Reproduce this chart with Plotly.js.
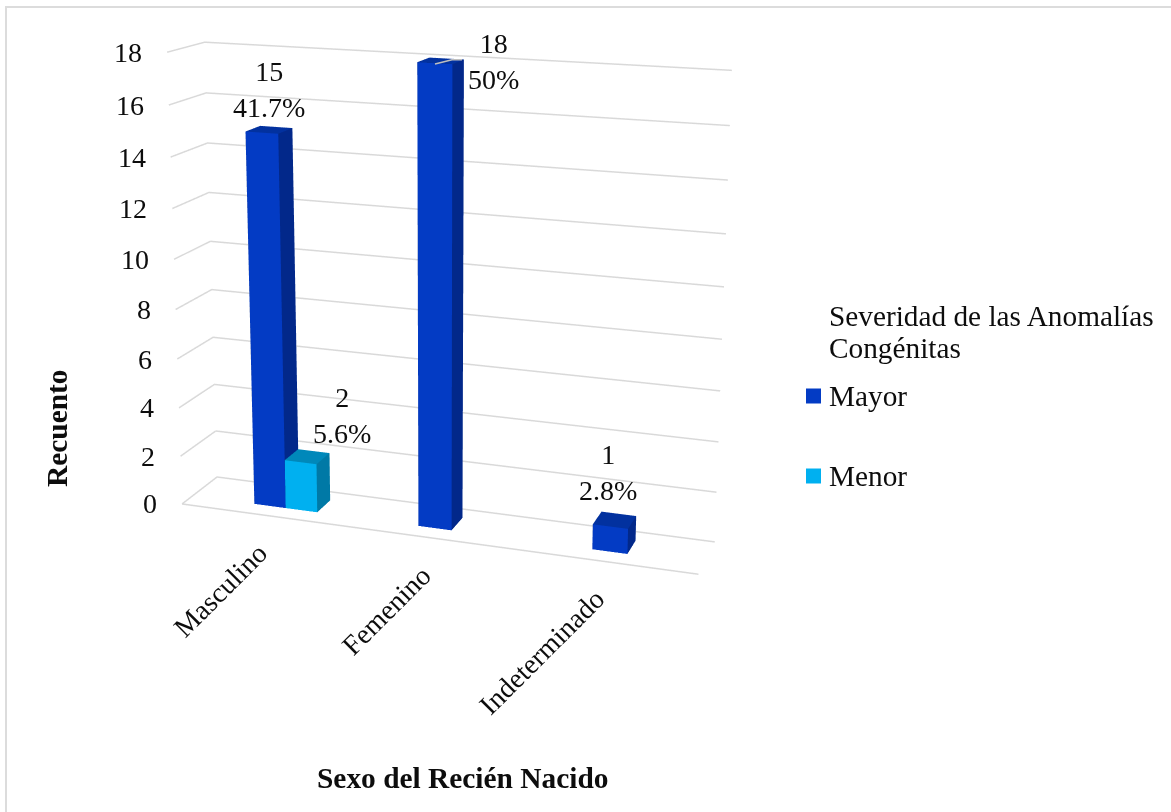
<!DOCTYPE html>
<html lang="es">
<head>
<meta charset="utf-8">
<title>Severidad de las anomalías congénitas por sexo</title>
<script src="https://cdn.plot.ly/plotly-3.0.1.min.js"></script>
<style>
  html, body { margin: 0; padding: 0; background: #fff; overflow: hidden; width: 1171px; height: 812px; }
  #frame { position: absolute; left: 5px; top: 6px; right: 0; bottom: 0; border-left: 2px solid #dcdcdc; border-top: 2px solid #dcdcdc; pointer-events: none; z-index: 5; }
  #chart { position: absolute; left: 0; top: -541px; width: 1171px; height: 1480px; }
</style>
</head>
<body>
<div id="chart"></div>
<div id="frame"></div>
<script>
// Recuento por sexo del recién nacido y severidad de la anomalía
const categories = ['Masculino', 'Femenino', 'Indeterminado'];
const mayorValues = [15, 18, 1];
const menorValues = [2, 0, 0];
const mayorPercents = ['41.7%', '50%', '2.8%'];
const menorPercents = ['5.6%', '', ''];
const valueTicks = [0, 2, 4, 6, 8, 10, 12, 14, 16, 18];

const SERIF = '"Liberation Serif", "Times New Roman", serif';
const TEXT = '#0d0d0d';
const GRID = '#d9d9d9';
const FIG_W = 1171, FIG_H = 1480, FIG_TOP = -541;

// Page pixels to paper fractions of the taller plotting surface
const px = x => x / FIG_W;
const py = y => 1 - (y - FIG_TOP) / FIG_H;

// Bar footprint inside a category slot, in axis units
const BAR_W = 0.195, BAR_LEFT = 0.39, DEPTH_LO = 0.3, DEPTH_HI = 0.72;

// One closed box as a mesh with a flat colour per face
function barMesh(name, slot, offset, values, colors) {
  const X = [], Y = [], Z = [], I = [], J = [], K = [], F = [];
  values.forEach((v, idx) => {
    if (!v) return;
    const x0 = idx + slot + offset * BAR_W, x1 = x0 + BAR_W;
    const b = X.length;
    [[x0,DEPTH_LO,0],[x1,DEPTH_LO,0],[x1,DEPTH_HI,0],[x0,DEPTH_HI,0],
     [x0,DEPTH_LO,v],[x1,DEPTH_LO,v],[x1,DEPTH_HI,v],[x0,DEPTH_HI,v]].forEach(p => {
      X.push(p[0]); Y.push(p[1]); Z.push(p[2]);
    });
    const quad = (a, c, d, e, col) => {
      I.push(b+a, b+a); J.push(b+c, b+d); K.push(b+d, b+e); F.push(col, col);
    };
    quad(0, 1, 5, 4, colors.front);
    quad(1, 2, 6, 5, colors.side);
    quad(4, 5, 6, 7, colors.top);
    quad(3, 0, 4, 7, colors.side);
    quad(2, 3, 7, 6, colors.side);
  });
  return {
    type: 'mesh3d', name, x: X, y: Y, z: Z, i: I, j: J, k: K, facecolor: F,
    flatshading: true, hoverinfo: 'skip', showscale: false,
    lighting: { ambient: 1, diffuse: 0, specular: 0, fresnel: 0, roughness: 1 }
  };
}

// Wall gridlines run along the left wall and then the back wall at every tick value
const gridX = [], gridY = [], gridZ = [];
valueTicks.forEach(v => {
  gridX.push(0, 0, 3, null);
  gridY.push(0, 1, 1, null);
  gridZ.push(v, v, v, null);
});
const wallGrid = {
  type: 'scatter3d', mode: 'lines', hoverinfo: 'skip', showlegend: false,
  x: gridX, y: gridY, z: gridZ, connectgaps: false,
  line: { color: GRID, width: 3 }
};
const floorFront = {
  type: 'scatter3d', mode: 'lines', hoverinfo: 'skip', showlegend: false,
  x: [0, 3], y: [0, 0], z: [0, 0],
  line: { color: GRID, width: 3 }
};

const hiddenAxis = (range) => ({
  range, autorange: false, title: { text: '' }, showgrid: false, showline: false,
  zeroline: false, showticklabels: false, showspikes: false, showbackground: false,
  ticks: '', ticklen: 0
});

// Value and share labels sit above each bar; tick labels hang off the front wall edge
const labelFont = { family: SERIF, size: 28, color: TEXT };
const legendFont = { family: SERIF, size: 29.3, color: TEXT };
const titleFont = { family: SERIF, size: 29.4, color: TEXT };
const sceneNotes = [];
valueTicks.forEach(v => sceneNotes.push({
  x: 0, y: 0, z: v, text: String(v), showarrow: false, xanchor: 'right', yanchor: 'middle',
  xshift: -23, font: labelFont
}));
const midDepth = (DEPTH_LO + DEPTH_HI) / 2;
const mayorShifts = [{ xshift: 0, yshift: 5 }, { xshift: 53, yshift: -36 }, { xshift: -7, yshift: 12 }];
mayorValues.forEach((v, i) => {
  sceneNotes.push({
    x: i + BAR_LEFT + BAR_W / 2, y: midDepth, z: v,
    text: v + '<br>' + mayorPercents[i], showarrow: false, xanchor: 'center', yanchor: 'bottom',
    font: labelFont, ...mayorShifts[i]
  });
});
menorValues.forEach((v, i) => {
  if (!v) return;
  sceneNotes.push({
    x: i + BAR_LEFT + 1.5 * BAR_W, y: midDepth, z: v,
    text: v + '<br>' + menorPercents[i], showarrow: false, xanchor: 'center', yanchor: 'bottom',
    xshift: 35, yshift: 6, font: labelFont
  });
});

const paperNote = (x, y, text, extra) => Object.assign({
  xref: 'paper', yref: 'paper', x: px(x), y: py(y), text, showarrow: false, font: labelFont,
  xanchor: 'center', yanchor: 'middle'
}, extra);

const annotations = [
  paperNote(220, 590, categories[0], { textangle: -45 }),
  paperNote(386, 610, categories[1], { textangle: -45 }),
  paperNote(541, 652, categories[2], { textangle: -45 }),
  paperNote(57, 428, '<b>Recuento</b>', { textangle: -90, font: titleFont }),
  paperNote(463, 778, '<b>Sexo del Recién Nacido</b>', { font: titleFont }),
  paperNote(827, 316, 'Severidad de las Anomalías', { xanchor: 'left', font: legendFont }),
  paperNote(827, 348, 'Congénitas', { xanchor: 'left', font: legendFont }),
  paperNote(827, 396, 'Mayor', { xanchor: 'left', font: legendFont }),
  paperNote(827, 476, 'Menor', { xanchor: 'left', font: legendFont })
];

const swatch = (y, color) => ({
  type: 'rect', xref: 'paper', yref: 'paper',
  x0: px(806), x1: px(821), y0: py(y - 7.5), y1: py(y + 7.5),
  fillcolor: color, line: { width: 0 }
});
const shapes = [
  swatch(396, '#033BC4'),
  swatch(476, '#00B0F0'),
  { type: 'path', xref: 'paper', yref: 'paper',
    path: `M${px(435)},${py(64)} L${px(452)},${py(59.7)} L${px(462)},${py(59.7)}`,
    line: { color: '#bfbfbf', width: 1.5 } }
];

const traces = [
  wallGrid,
  floorFront,
  barMesh('Mayor', BAR_LEFT, 0, mayorValues, { front: '#033BC4', side: '#02288A', top: '#02319F' }),
  barMesh('Menor', BAR_LEFT, 1, menorValues, { front: '#00B0F0', side: '#0079A6', top: '#0088BA' })
];

const layout = {
  width: FIG_W, height: FIG_H, margin: { l: 0, r: 0, t: 0, b: 0 },
  paper_bgcolor: '#ffffff', showlegend: false,
  scene: {
    domain: { x: [0, 1036 / FIG_W], y: [0, 1] },
    aspectmode: 'manual',
    aspectratio: { x: 1, y: 0.147, z: 0.866 },
    camera: {
      projection: { type: 'perspective' },
      eye: { x: 1.047, y: -2.940, z: 0.880 },
      center: { x: 0.113, y: 0.091, z: 0.174 },
      up: { x: -0.0735, y: 0.2046, z: 0.976 }
    },
    xaxis: hiddenAxis([0, 3]),
    yaxis: hiddenAxis([0, 1]),
    zaxis: hiddenAxis([0, 18]),
    annotations: sceneNotes
  },
  annotations, shapes
};

Plotly.newPlot('chart', traces, layout, { displayModeBar: false });
</script>
</body>
</html>
